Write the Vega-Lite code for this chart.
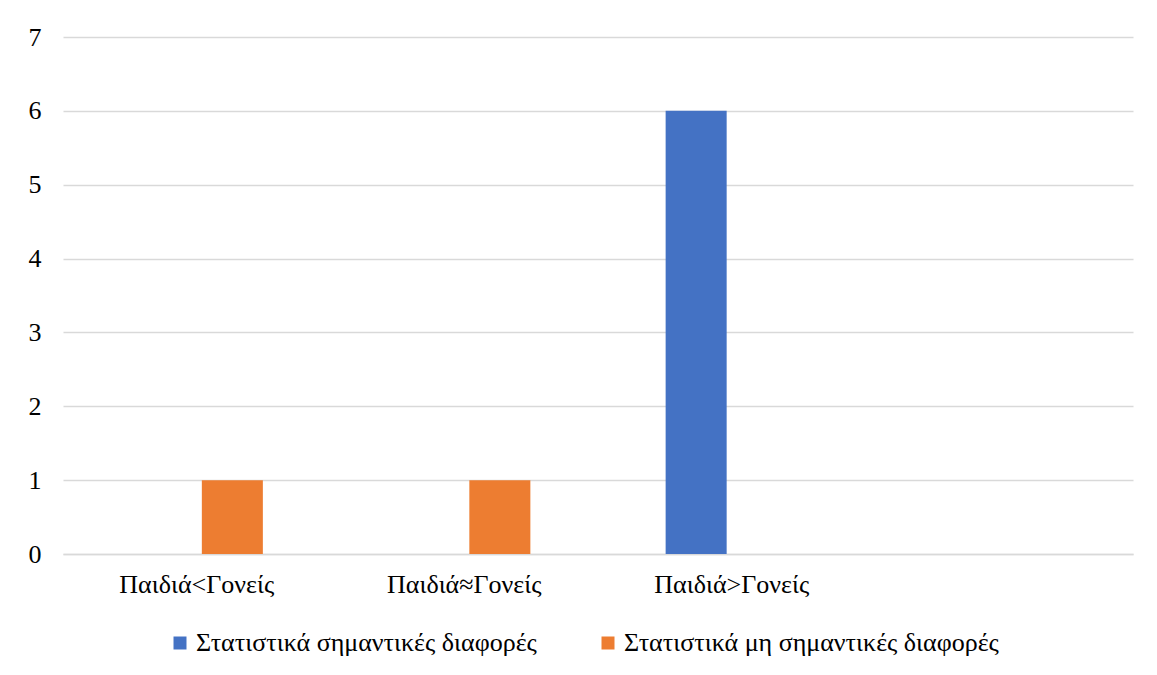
{
  "$schema": "https://vega.github.io/schema/vega-lite/v6.json",
  "width": 1070,
  "height": 517,
  "autosize": {"type": "none"},
  "padding": {"left": 63, "top": 37, "right": 24, "bottom": 121},
  "background": "white",
  "data": {
    "values": [
      {"category": "Παιδιά<Γονείς", "series": "Στατιστικά σημαντικές διαφορές", "value": 0},
      {"category": "Παιδιά<Γονείς", "series": "Στατιστικά μη σημαντικές διαφορές", "value": 1},
      {"category": "Παιδιά≈Γονείς", "series": "Στατιστικά σημαντικές διαφορές", "value": 0},
      {"category": "Παιδιά≈Γονείς", "series": "Στατιστικά μη σημαντικές διαφορές", "value": 1},
      {"category": "Παιδιά>Γονείς", "series": "Στατιστικά σημαντικές διαφορές", "value": 6},
      {"category": "Παιδιά>Γονείς", "series": "Στατιστικά μη σημαντικές διαφορές", "value": 0}
    ]
  },
  "mark": {"type": "bar"},
  "encoding": {
    "x": {
      "field": "category",
      "type": "nominal",
      "sort": null,
      "scale": {"domain": ["Παιδιά<Γονείς", "Παιδιά≈Γονείς", "Παιδιά>Γονείς", " "], "paddingInner": 0, "paddingOuter": 0},
      "axis": {
        "title": null,
        "labelAngle": 0,
        "labelFont": "Liberation Serif",
        "labelFontSize": 26,
        "labelColor": "#000000",
        "labelPadding": 17,
        "labelLimit": 400,
        "ticks": false,
        "domain": true,
        "domainColor": "#D9D9D9",
        "domainWidth": 1.5,
        "grid": false
      }
    },
    "xOffset": {
      "field": "series",
      "type": "nominal",
      "sort": ["Στατιστικά σημαντικές διαφορές", "Στατιστικά μη σημαντικές διαφορές"],
      "scale": {"paddingInner": 0.1429, "paddingOuter": 0.95}
    },
    "y": {
      "field": "value",
      "type": "quantitative",
      "scale": {"domain": [0, 7], "nice": false},
      "axis": {
        "title": null,
        "values": [0, 1, 2, 3, 4, 5, 6, 7],
        "labelOverlap": false,
        "labelFont": "Liberation Serif",
        "labelFontSize": 26,
        "labelColor": "#000000",
        "labelPadding": 22,
        "ticks": false,
        "domain": false,
        "grid": true,
        "gridColor": "#D9D9D9",
        "gridWidth": 1.5
      }
    },
    "color": {
      "field": "series",
      "type": "nominal",
      "sort": ["Στατιστικά σημαντικές διαφορές", "Στατιστικά μη σημαντικές διαφορές"],
      "scale": {"range": ["#4472C4", "#ED7D31"]},
      "legend": {
        "title": null,
        "orient": "none",
        "legendX": 104,
        "legendY": 593,
        "direction": "horizontal",
        "symbolType": "square",
        "symbolSize": 169,
        "symbolStrokeWidth": 0,
        "labelFont": "Liberation Serif",
        "labelFontSize": 26,
        "labelColor": "#000000",
        "labelOffset": 3,
        "labelLimit": 500,
        "columnPadding": 58
      }
    }
  },
  "config": {
    "view": {"stroke": null}
  }
}
